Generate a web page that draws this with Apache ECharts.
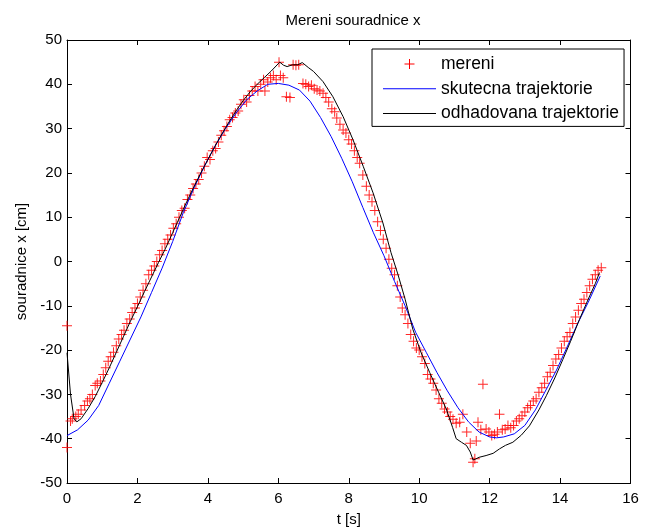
<!DOCTYPE html>
<html><head><meta charset="utf-8">
<script src="https://cdn.jsdelivr.net/npm/echarts@6/dist/echarts.min.js"></script>
<style>html,body{margin:0;padding:0;background:#fff}#c{width:645px;height:532px}</style>
</head><body><div id="c"></div>
<script>
const titleText = 'Mereni souradnice x';
const xName = 't [s]';
const yName = 'souradnice x [cm]';
const seriesNames = ['mereni', 'skutecna trajektorie', 'odhadovana trajektorie'];
const xTicks = [0, 2, 4, 6, 8, 10, 12, 14, 16];
const yTicks = [-50, -40, -30, -20, -10, 0, 10, 20, 30, 40, 50];

// measured points (t, value)
const measuredT = [0.00,0.00,0.10,0.15,0.25,0.32,0.40,0.50,0.58,0.65,0.72,0.80,0.86,0.95,1.03,1.10,1.17,1.24,1.32,1.40,1.47,1.55,1.62,1.70,1.78,1.85,1.93,2.00,2.08,2.16,2.24,2.32,2.40,2.48,2.55,2.63,2.70,2.78,2.86,2.94,3.02,3.10,3.18,3.26,3.34,3.42,3.50,3.58,3.66,3.74,3.82,3.90,3.98,4.06,4.14,4.22,4.30,4.38,4.46,4.54,4.62,4.70,4.78,4.86,4.94,5.02,5.10,5.18,5.26,5.34,5.42,5.50,5.58,5.62,5.70,5.78,5.86,5.94,6.02,6.06,6.14,6.23,6.33,6.42,6.50,6.58,6.70,6.78,6.86,6.94,7.02,7.10,7.18,7.27,7.35,7.43,7.52,7.60,7.66,7.75,7.84,7.92,8.00,8.08,8.16,8.24,8.31,8.40,8.50,8.58,8.66,8.74,8.82,8.90,8.98,9.06,9.14,9.22,9.30,9.38,9.46,9.52,9.60,9.68,9.76,9.84,9.92,10.00,10.08,10.16,10.24,10.32,10.40,10.48,10.56,10.64,10.72,10.80,10.88,10.96,11.05,11.15,11.24,11.35,11.45,11.53,11.58,11.62,11.67,11.75,11.81,11.90,11.98,12.06,12.14,12.22,12.28,12.36,12.44,12.52,12.60,12.68,12.76,12.84,12.92,13.00,13.08,13.16,13.24,13.32,13.40,13.48,13.56,13.64,13.72,13.80,13.88,13.96,14.04,14.12,14.20,14.28,14.36,14.44,14.52,14.60,14.68,14.76,14.84,14.92,15.00,15.08,15.17];
const measuredV = [-42,-14.5,-36,-35.5,-35,-34.5,-33.5,-32.5,-31.5,-31,-30,-28,-27.5,-27,-25.5,-24,-22.5,-21.5,-20.5,-19,-17.5,-16.5,-15.5,-14,-13,-11.5,-10.5,-9.5,-8,-6.5,-5,-3,-2,-1,0,1.5,2.5,4,5,6,7.5,8.5,10,11.5,12,14,15,16.5,17.5,18.5,20,21.5,23.5,23,25,25.5,27,28.5,29.5,30.5,32,32.5,33.5,34,35.5,36.5,36,37.5,38.5,39.5,38.5,40,41,38.5,40.5,41.5,42,41,45,42,41.5,37.2,37,44.4,44.3,44.4,40.2,40,39.5,39.8,39,38.7,38.5,38,37,36,34.5,33.8,32.4,31,29.7,29,27.5,26.5,25,23.5,22.2,19.5,17,15,13.5,11.5,9,7,5,3,0.5,-1.5,-3,-5.5,-8,-10.5,-12,-14,-16.5,-18,-19.5,-20,-21.5,-23,-25.5,-26.5,-27.5,-29,-31,-32,-33.3,-34,-35,-35.6,-36.5,-36.3,-34.5,-38.5,-41,-45.3,-44.5,-40.5,-36.3,-38,-27.7,-37.8,-38.5,-39.3,-39,-38.5,-34.5,-38,-37.8,-37,-37.5,-37,-36,-35.5,-34.8,-34,-33,-32.5,-31.5,-31,-29.5,-28.5,-27.5,-26,-25,-23.5,-22,-21,-19.5,-18,-17,-16,-14,-12.5,-11,-9.5,-8.5,-7,-5.5,-4,-3,-2,-1.4];

// true trajectory (blue)
const trueT = [0,0.3,0.6,0.9,1.2,1.5,1.8,2.1,2.4,2.7,3.0,3.3,3.6,3.9,4.2,4.5,4.8,5.1,5.4,5.7,6.0,6.3,6.6,6.9,7.2,7.5,7.8,8.1,8.4,8.7,9.0,9.3,9.6,9.9,10.2,10.5,10.8,11.1,11.4,11.7,12.0,12.2,12.4,12.7,13.0,13.3,13.6,13.9,14.2,14.5,14.8,15.14];
const trueV = [-39.3,-38,-35.8,-32.5,-27.5,-22.5,-17.5,-12.5,-7,-1.5,4.5,11,16.5,21.5,26,30,33.5,36.5,38.5,40,40.2,39.8,38.7,36.2,32.5,28.2,23.3,18,12.2,6.5,1.3,-4.5,-10,-16,-20.5,-25,-29.2,-33,-36.2,-38.5,-39.6,-39.8,-39.6,-38.9,-37,-33.5,-29,-24.5,-19.3,-14,-9.2,-3.3];

// estimated trajectory (black)
const estT = [0,0.1,0.2,0.28,0.4,0.6,0.8,1.0,1.2,1.4,1.6,1.8,2.0,2.2,2.4,2.6,2.8,3.0,3.2,3.4,3.6,3.8,4.0,4.2,4.4,4.6,4.8,5.0,5.2,5.4,5.6,5.8,6.04,6.15,6.25,6.4,6.55,6.68,6.85,7.0,7.27,7.55,7.84,8.12,8.41,8.69,8.97,9.2,9.4,9.6,9.82,10.05,10.3,10.55,10.77,10.95,11.05,11.2,11.34,11.45,11.53,11.6,11.7,11.9,12.1,12.28,12.45,12.66,12.9,13.13,13.4,13.61,13.85,14.08,14.3,14.55,14.8,15.0,15.12];
const estV = [-20.6,-30,-35.5,-36.2,-35.5,-33.2,-30.5,-27.3,-24,-20.5,-17,-13.5,-10.2,-6.8,-3.5,-0.2,3,6.5,10,13.5,16.8,20,23,26,28.8,31.5,34,36.3,38.3,40,41.5,43,45,44.3,44,44.4,44.4,44.9,43.8,42.9,40.6,37.2,32.7,27.5,21.5,15.5,8.7,2,-3,-8.5,-15.3,-20.5,-25.1,-29.5,-33.3,-37.5,-40,-40.8,-41.5,-43,-44.8,-44.6,-44.2,-43.8,-43.3,-42.3,-41.5,-40.8,-39.2,-37.1,-33.5,-30.3,-26.3,-22.1,-18,-13.1,-8.5,-5,-2.5];

const FONT = 'Liberation Sans, Arial, Helvetica, sans-serif';
const plus = 'path://M4.5,0H5.5V4.5H10V5.5H5.5V10H4.5V5.5H0V4.5H4.5Z';
const lineIcon = 'path://M0,0H53V1H0Z';

const zip = (a, b) => a.map((t, i) => [t, b[i]]);
const xMin = xTicks[0], xMax = xTicks[xTicks.length - 1], xStep = xTicks[1] - xTicks[0];
const yMin = yTicks[0], yMax = yTicks[yTicks.length - 1], yStep = yTicks[1] - yTicks[0];

const baseAxis = {
  axisLine: { show: true, onZero: false, lineStyle: { color: '#000', width: 1 } },
  axisTick: { show: true, inside: true, length: 5, lineStyle: { color: '#000', width: 1 } },
  splitLine: { show: false },
  axisLabel: { color: '#000', fontSize: 15, fontFamily: FONT }
};

const chart = echarts.init(document.getElementById('c'), null, { renderer: 'canvas' });
chart.setOption({
  animation: false,
  backgroundColor: '#fff',
  title: {
    text: titleText, left: 348, top: 8, textAlign: 'center',
    textStyle: { fontSize: 15, fontWeight: 'normal', color: '#000', fontFamily: FONT }
  },
  grid: { left: 67, top: 40, right: 14.5, bottom: 48, containLabel: false },
  legend: {
    orient: 'vertical', left: 372, top: 49,
    padding: [6, 5, 4, 11], itemGap: 6.7, itemWidth: 53, itemHeight: 10,
    borderColor: '#000', borderWidth: 1, backgroundColor: '#fff',
    textStyle: { fontSize: 17.5, color: '#000', fontFamily: FONT },
    data: [
      { name: seriesNames[0], icon: plus, itemStyle: { color: '#ff0000', opacity: 1 } },
      { name: seriesNames[1], icon: lineIcon, itemStyle: { color: '#0000ff' } },
      { name: seriesNames[2], icon: lineIcon, itemStyle: { color: '#000000' } }
    ]
  },
  xAxis: [
    Object.assign({}, baseAxis, {
      type: 'value', min: xMin, max: xMax, interval: xStep, position: 'bottom',
      name: xName, nameLocation: 'middle', nameGap: 29,
      nameTextStyle: { fontSize: 15, color: '#000', fontFamily: FONT },
      axisLabel: Object.assign({}, baseAxis.axisLabel, { margin: 8 })
    }),
    Object.assign({}, baseAxis, {
      type: 'value', min: xMin, max: xMax, interval: xStep, position: 'top',
      axisLabel: { show: false }
    })
  ],
  yAxis: [
    Object.assign({}, baseAxis, {
      type: 'value', min: yMin, max: yMax, interval: yStep, position: 'left',
      name: yName, nameLocation: 'middle', nameGap: 37,
      nameTextStyle: { fontSize: 15, color: '#000', fontFamily: FONT },
      axisLabel: Object.assign({}, baseAxis.axisLabel, { margin: 5 })
    }),
    Object.assign({}, baseAxis, {
      type: 'value', min: yMin, max: yMax, interval: yStep, position: 'right',
      axisLabel: { show: false }
    })
  ],
  series: [
    {
      name: seriesNames[0], type: 'scatter', data: zip(measuredT, measuredV),
      symbol: plus, symbolSize: 10, itemStyle: { color: '#ff0000', opacity: 0.85 },
      xAxisIndex: 0, yAxisIndex: 0, silent: true
    },
    {
      name: seriesNames[1], type: 'line', data: zip(trueT, trueV),
      symbol: 'none', smooth: false, lineStyle: { color: '#0000ff', width: 1 },
      itemStyle: { color: '#0000ff' }, xAxisIndex: 0, yAxisIndex: 0, silent: true
    },
    {
      name: seriesNames[2], type: 'line', data: zip(estT, estV),
      symbol: 'none', smooth: false, lineStyle: { color: '#000', width: 1 },
      itemStyle: { color: '#000' }, xAxisIndex: 0, yAxisIndex: 0, silent: true
    }
  ]
});
</script></body></html>
